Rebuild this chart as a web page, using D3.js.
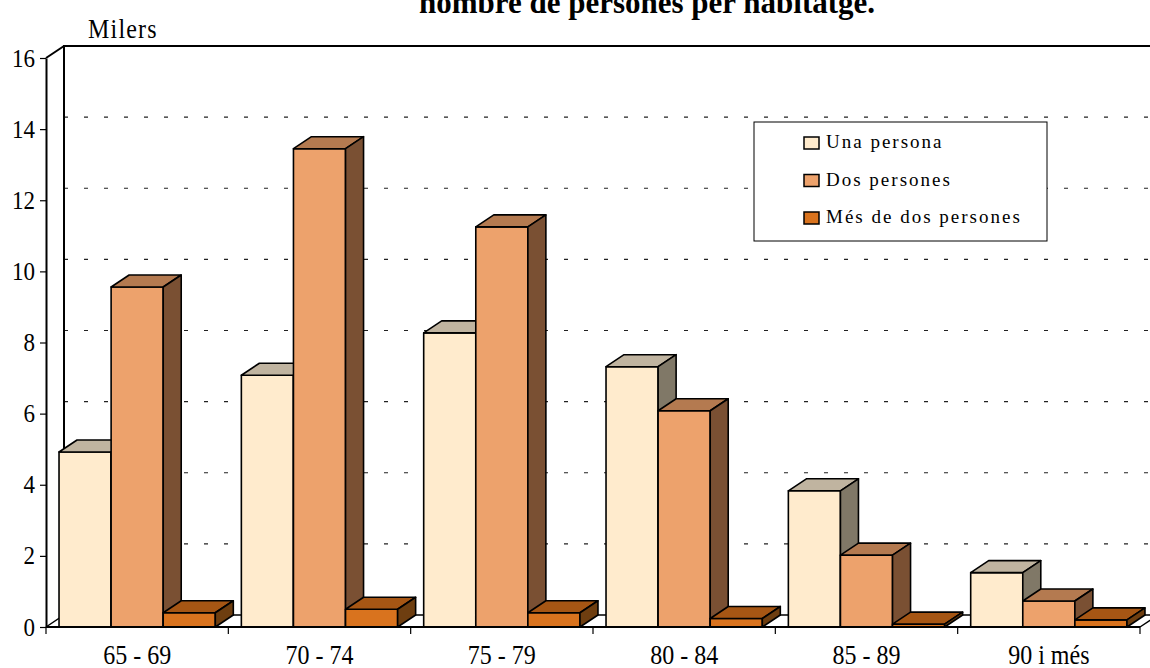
<!DOCTYPE html>
<html>
<head>
<meta charset="utf-8">
<script src="https://cdn.jsdelivr.net/npm/d3@7"></script>
<style>
  body { margin: 0; background: #fff; }
  svg text { font-family: "Liberation Serif", "Times New Roman", serif !important; fill: #000; }
</style>
</head>
<body>
<div id="chart"></div>
<script>
const categories = ['65 - 69', '70 - 74', '75 - 79', '80 - 84', '85 - 89', '90 i més'];
const series = ['Una persona', 'Dos persones', 'Més de dos persones'];
const unaPersona = [4.92, 7.08, 8.27, 7.32, 3.83, 1.53];
const dosPersones = [9.56, 13.45, 11.25, 6.08, 2.02, 0.73];
const mesDeDos = [0.4, 0.5, 0.4, 0.24, 0.08, 0.2];
const yTicks = [0, 2, 4, 6, 8, 10, 12, 14, 16];

const values = [unaPersona, dosPersones, mesDeDos];
const colors = [
  { front: '#ffebcd', top: '#c0b4a0', side: '#807867' },
  { front: '#eda26c', top: '#b47a50', side: '#7a5033' },
  { front: '#d9731e', top: '#a65614', side: '#6e3e10' }
];

const width = 1150, height = 668;
const dx = 18, dy = -12;   // depth offset
const serif = '"Liberation Serif", "Times New Roman", serif';

const svg = d3.select('#chart').append('svg')
  .attr('width', width)
  .attr('height', height)

const x = d3.scaleBand().domain(categories).range([46, 1140]).paddingInner(0).paddingOuter(0);
const xs = d3.scaleBand().domain(series).range([0, x.bandwidth()]).paddingInner(0).paddingOuter(0.25);
const y = d3.scaleLinear().domain([0, 16]).range([627, 58]);

// title (first line is off the picture)
svg.append('text')
  .attr('x', 647).attr('y', 13)
  .attr('text-anchor', 'middle')
  .style('font-family', serif)
  .style('font-size', '31px').style('font-weight', 'bold')
  .text('nombre de persones per habitatge.')

svg.append('text')
  .attr('transform', 'translate(88, 38) scale(1, 1.1)')
  .style('font-family', serif)
  .style('font-size', '24px').style('letter-spacing', '1.2px')
  .text('Milers')

// back wall gridlines
svg.append('g').selectAll('line')
  .data(yTicks.filter(d => d > 0 && d < 16))
  .join('line')
  .attr('x1', 64).attr('x2', 1140 + dx)
  .attr('y1', d => y(d) + dy).attr('y2', d => y(d) + dy)
  .attr('stroke', '#222').attr('stroke-width', 1.2)
  .attr('stroke-dasharray', '4,16')

// walls and floor
const x0 = 46, x1 = 1140, yb = y(0), yt = y(16);
const frame = svg.append('g').attr('fill', 'none').attr('stroke', '#000').attr('stroke-width', 2);
frame.append('path').attr('d', `M${x0 + dx},${yb + dy}V${yt + dy}H${x1 + dx}`);
frame.append('path').attr('d', `M${x0},${yt}L${x0 + dx},${yt + dy}`);
frame.append('path').attr('d', `M${x0},${yb}L${x0 + dx},${yb + dy}H${x1 + dx}L${x1},${yb}`).attr('stroke-width', 1.5);

// bars
const bars = svg.append('g').attr('stroke', '#000').attr('stroke-width', 1.6).attr('stroke-linejoin', 'round');
categories.forEach((c, ci) => {
  series.forEach((s, si) => {
    const v = values[si][ci];
    const bx = x(c) + xs(s), bw = xs.bandwidth();
    const top = y(v), bot = y(0);
    const col = colors[si];
    bars.append('rect')
      .attr('x', bx).attr('y', top).attr('width', bw).attr('height', bot - top)
      .attr('fill', col.front)
    bars.append('path')
      .attr('d', `M${bx},${top}L${bx + dx},${top + dy}H${bx + bw + dx}L${bx + bw},${top}Z`)
      .attr('fill', col.top)
    bars.append('path')
      .attr('d', `M${bx + bw},${top}L${bx + bw + dx},${top + dy}V${bot + dy}L${bx + bw},${bot}Z`)
      .attr('fill', col.side)
  });
});

// front baseline
svg.append('line')
  .attr('x1', x0).attr('x2', x1).attr('y1', yb).attr('y2', yb)
  .attr('stroke', '#000').attr('stroke-width', 2)

// y axis
const yAxis = d3.axisLeft(y).tickValues(yTicks).tickSize(6).tickSizeOuter(0).tickFormat(d => d).tickPadding(0);
const gy = svg.append('g')
  .attr('transform', `translate(${x0}, 0)`)
  .call(yAxis)
gy.attr('font-family', null).attr('font-size', null);
gy.select('.domain').attr('stroke-width', 2);
gy.selectAll('.tick line').attr('stroke-width', 1.2);
gy.selectAll('text')
  .attr('x', null).attr('dy', null)
  .attr('transform', 'translate(-11, 8) scale(1, 1.13)')
  .style('font-family', serif).style('font-size', '23px')

// category boundary ticks
svg.append('g').selectAll('line')
  .data(categories.map(c => x(c)).concat([x1]))
  .join('line')
  .attr('x1', d => d).attr('x2', d => d)
  .attr('y1', yb).attr('y2', yb + 7)
  .attr('stroke', '#000').attr('stroke-width', 1.2)

// category labels
const xAxis = d3.axisBottom(x).tickSize(0).tickPadding(0);
const gx = svg.append('g')
  .attr('transform', `translate(0, ${yb})`)
  .call(xAxis)
gx.attr('font-family', null).attr('font-size', null);
gx.select('.domain').remove();
gx.selectAll('text')
  .attr('dy', null).attr('y', null)
  .attr('transform', 'translate(0, 37) scale(1, 1.13)')
  .style('font-family', serif).style('font-size', '24px')

// legend
const legend = svg.append('g').attr('transform', 'translate(754, 122)');
legend.append('rect')
  .attr('width', 293).attr('height', 119)
  .attr('fill', '#fff').attr('stroke', '#000').attr('stroke-width', 1)
const ly = d3.scalePoint().domain(series).range([20, 95]);
legend.selectAll('.sw')
  .data(series)
  .join('rect')
  .attr('class', 'sw')
  .attr('x', 50).attr('y', d => ly(d) - 5)
  .attr('width', 15).attr('height', 12)
  .attr('fill', (d, i) => colors[i].front)
  .attr('stroke', '#000').attr('stroke-width', 1.5)
legend.selectAll('.lt')
  .data(series)
  .join('text')
  .attr('class', 'lt')
  .attr('x', 72).attr('y', d => ly(d) + 6)
  .style('font-family', serif)
  .style('font-size', '19px').style('letter-spacing', '2px')
  .text(d => d)
</script>
</body>
</html>
